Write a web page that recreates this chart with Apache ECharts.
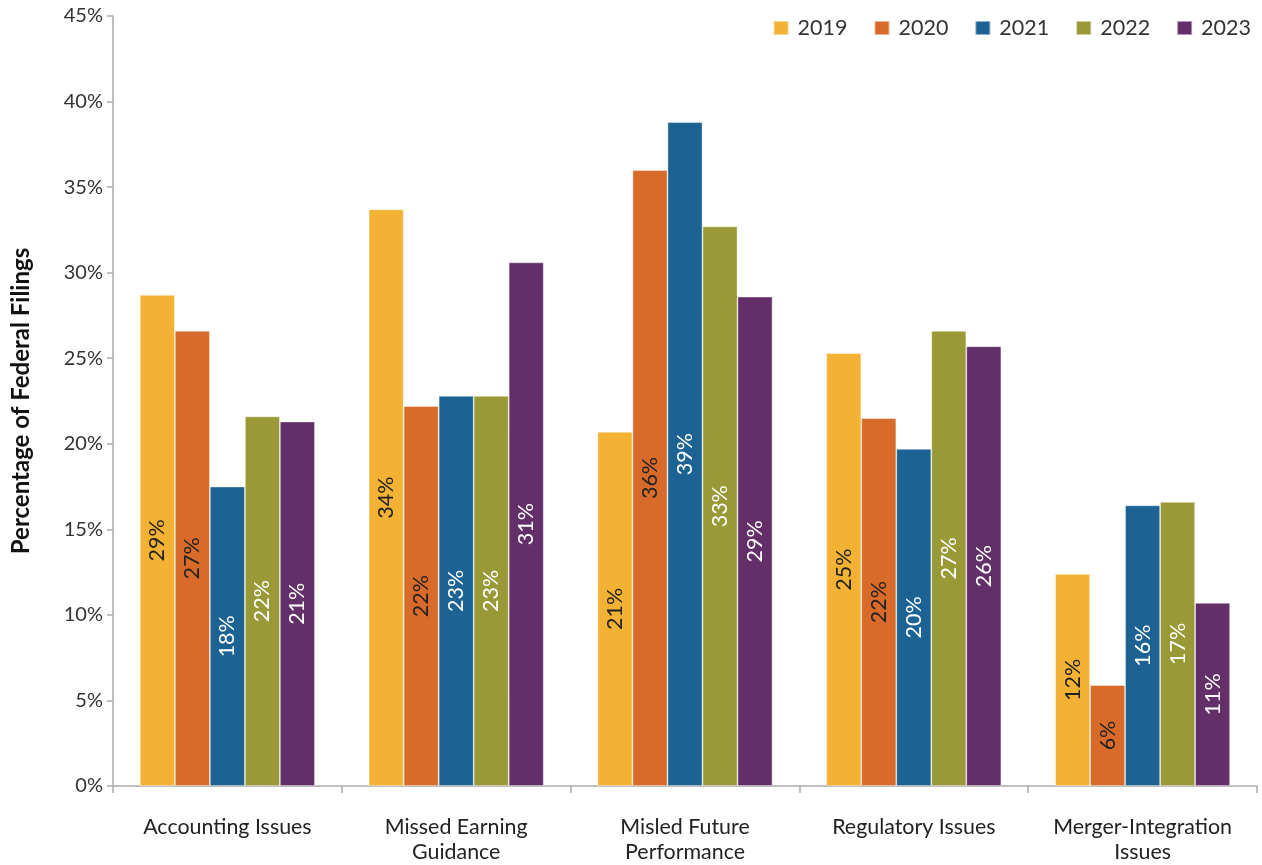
<!DOCTYPE html>
<html><head><meta charset="utf-8">
<script src="https://cdn.jsdelivr.net/npm/echarts@6/dist/echarts.min.js"></script>
<style>html,body{margin:0;padding:0;background:#fff}#c{width:1262px;height:865px}</style>
</head><body><div id="c"></div>
<script>
const categories = ['Accounting Issues', 'Missed Earning\nGuidance', 'Misled Future\nPerformance', 'Regulatory Issues', 'Merger-Integration\nIssues'];
const years = ['2019', '2020', '2021', '2022', '2023'];
const v2019 = [28.7, 33.7, 20.7, 25.3, 12.4];
const v2020 = [26.6, 22.2, 36.0, 21.5, 5.9];
const v2021 = [17.5, 22.8, 38.8, 19.7, 16.4];
const v2022 = [21.6, 22.8, 32.7, 26.6, 16.6];
const v2023 = [21.3, 30.6, 28.6, 25.7, 10.7];
const yTicks = [0, 5, 10, 15, 20, 25, 30, 35, 40, 45];

const seriesValues = [v2019, v2020, v2021, v2022, v2023];
const colors = ['#F3B233', '#D86B29', '#1C6293', '#999A37', '#622F69'];
const labelColors = ['#222', '#222', '#fff', '#fff', '#fff'];
const FONT = 'Lato';

const chart = echarts.init(document.getElementById('c'));
chart.setOption({
  animation: false,
  textStyle: { fontFamily: FONT },
  legend: {
    top: 12, right: 6, itemWidth: 15, itemHeight: 14, itemGap: 26,
    icon: 'rect',
    textStyle: { fontFamily: FONT, fontSize: 21.5, color: '#333', padding: [0, 0, 0, 4] },
    data: years
  },
  grid: { left: 113, right: 5, top: 16, bottom: 78, containLabel: false },
  xAxis: {
    type: 'category', data: categories,
    axisLine: { lineStyle: { color: '#aaa', width: 1.5 } },
    axisTick: { show: true, interval: 0, length: 7, lineStyle: { color: '#aaa', width: 1.5 } },
    axisLabel: { interval: 0, fontFamily: FONT, fontSize: 21.4, color: '#222', margin: 29, lineHeight: 25 }
  },
  yAxis: {
    type: 'value', min: yTicks[0], max: yTicks[yTicks.length - 1], interval: 5,
    name: 'Percentage of Federal Filings', nameLocation: 'middle', nameGap: 80,
    nameTextStyle: { fontFamily: FONT, fontSize: 24, fontWeight: 'bold', color: '#111' },
    axisLine: { show: true, lineStyle: { color: '#aaa', width: 1.5 } },
    axisTick: { show: true, length: 6, lineStyle: { color: '#aaa', width: 1.5 } },
    splitLine: { show: false },
    axisLabel: { fontFamily: FONT, fontSize: 20, color: '#333', margin: 10, formatter: '{value}%' }
  },
  series: years.map((y, i) => ({
    name: y, type: 'bar', data: seriesValues[i],
    barGap: '0%', barCategoryGap: '23.5%',
    itemStyle: { color: colors[i], borderColor: 'rgba(255,255,255,0.5)', borderWidth: 0.8 },
    label: {
      show: true, position: 'inside', rotate: 90,
      fontFamily: FONT, fontSize: 21.5, color: labelColors[i],
      formatter: p => Math.round(p.value) + '%'
    }
  }))
});
</script></body></html>
